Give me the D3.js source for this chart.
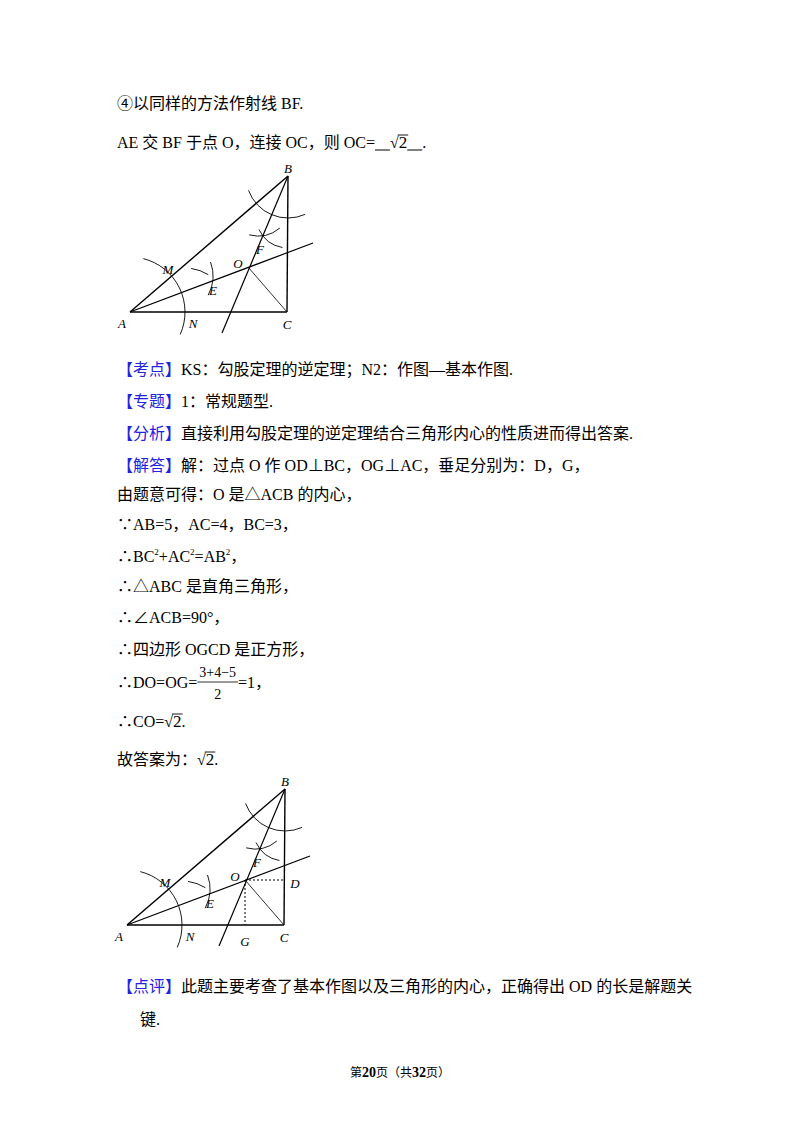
<!DOCTYPE html>
<html><head><meta charset="utf-8">
<script src="https://cdn.jsdelivr.net/npm/d3@7"></script>
<style>body{margin:0;background:#fff}text{font-family:"Liberation Serif","Noto Sans CJK SC",serif;}</style>
</head><body><svg id="s" width="800" height="1132"></svg>
<script>
const blue="#2222dd";
const lines=[
 [109,117,["④以同样的方法作射线 BF."]],
 [148,117,["AE 交 BF 于点 O，连接 OC，则 OC=",{t:"2",sqrt:1,under:1},"."]],
 [375,117,[{t:"【考点】",c:blue},"KS：勾股定理的逆定理；N2：作图—基本作图."]],
 [407,117,[{t:"【专题】",c:blue},"1：常规题型."]],
 [439,117,[{t:"【分析】",c:blue},"直接利用勾股定理的逆定理结合三角形内心的性质进而得出答案."]],
 [471,117,[{t:"【解答】",c:blue},"解：过点 O 作 OD⊥BC，OG⊥AC，垂足分别为：D，G，"]],
 [500,117,["由题意可得：O 是△ACB 的内心，"]],
 [530,117,["∵AB=5，AC=4，BC=3，"]],
 [562,117,["∴BC",{t:"2",sup:1},"+AC",{t:"2",sup:1},"=AB",{t:"2",sup:1},"，"]],
 [592,117,["∴△ABC 是直角三角形，"]],
 [623,117,["∴∠ACB=90°，"]],
 [655,117,["∴四边形 OGCD 是正方形，"]],
 [688,117,["∴DO=OG=",{frac:["3+4−5","2"]},"=1，"]],
 [727,117,["∴CO=",{t:"2",sqrt:1},"."]],
 [765,117,["故答案为：",{t:"2",sqrt:1},"."]],
 [992,117,[{t:"【点评】",c:blue},"此题主要考查了基本作图以及三角形的内心，正确得出 OD 的长是解题关"]],
 [1025,140,["键."]]
];
const footer=["第","20","页（共","32","页）"];
const ptNames=["A","C","B","O","E","F","M","N","R","S","D","G"];
const ptX=[0,157,158,118,83,130,42,55,183,92,158,118];
const ptY=[0,0,136,45,33,75,36,0,69,-21,45,0];
const svg=d3.select("#s");
function drawLine(y,x0,segs){
  let x=x0;
  segs.forEach(sg=>{
    if(typeof sg==="string") sg={t:sg};
    if(sg.frac){
      const n=svg.append("text").attr("font-size",14).attr("y",y-11).text(sg.frac[0]);
      const w=n.node().getComputedTextLength()+4;
      n.attr("x",x+2);
      svg.append("line").attr("x1",x).attr("x2",x+w).attr("y1",y-6).attr("y2",y-6).attr("stroke","#000").attr("stroke-width",0.8);
      svg.append("text").attr("font-size",14).attr("x",x+w/2).attr("y",y+11).attr("text-anchor","middle").text(sg.frac[1]);
      x+=w; return;
    }
    if(sg.sqrt){
      if(sg.under){svg.append("line").attr("x1",x).attr("x2",x+15).attr("y1",y+2).attr("y2",y+2).attr("stroke","#000");x+=15;}
      const r=svg.append("text").attr("x",x).attr("y",y).attr("font-size",16).text("√");
      x+=r.node().getComputedTextLength();
      const t=svg.append("text").attr("x",x).attr("y",y).attr("font-size",17).text(sg.t);
      const w=t.node().getComputedTextLength();
      svg.append("line").attr("x1",x-1).attr("x2",x+w+1).attr("y1",y-13).attr("y2",y-13).attr("stroke","#000").attr("stroke-width",0.9);
      x+=w;
      if(sg.under){svg.append("line").attr("x1",x).attr("x2",x+15).attr("y1",y+2).attr("y2",y+2).attr("stroke","#000");x+=15;}
      return;
    }
    const t=svg.append("text").attr("x",x).attr("y",sg.sup?y-7:y).attr("font-size",sg.sup?9:16).attr("fill",sg.c||"#000").text(sg.t);
    x+=t.node().getComputedTextLength();
  });
}
lines.forEach(l=>drawLine(l[0],l[1],l[2]));
{
  const f=svg.append("text").attr("y",1077).attr("font-size",12).attr("x",400).attr("text-anchor","middle");
  footer.forEach((s,i)=>f.append("tspan").attr("font-weight",i%2?"bold":"normal").attr("font-size",i%2?14:12).text(s));
}
function figure(ax,ay,extra){
  const sx=d3.scaleLinear().domain([0,1]).range([ax,ax+1]);
  const sy=d3.scaleLinear().domain([0,1]).range([ay,ay-1]);
  const P={};ptNames.forEach((n,i)=>P[n]=[sx(ptX[i]),sy(ptY[i])]);
  const g=svg.append("g").attr("fill","none").attr("stroke","#000");
  const seg=(a,b,w,dash)=>g.append("line").attr("x1",a[0]).attr("y1",a[1]).attr("x2",b[0]).attr("y2",b[1]).attr("stroke-width",w).attr("stroke-dasharray",dash||null);
  seg(P.A,P.C,1.6);seg(P.C,P.B,1.4);seg(P.A,P.B,1.4);
  seg(P.A,P.R,1.2);seg(P.B,P.S,1.2);seg(P.O,P.C,0.8);
  const arc=(c,r,a0,a1,w)=>{const p=d3.path();p.arc(c[0],c[1],r,a0*Math.PI/180,a1*Math.PI/180);g.append("path").attr("d",p.toString()).attr("stroke-width",w||0.9);};
  arc(P.A,55,-76,24);
  arc(P.B,42,66,160);
  arc(P.M,41,-20,28); arc(P.N,44,-82,-58);
  const b1=[P.B[0]-30,P.B[1]+26], b2=[P.B[0],P.B[1]+40];
  arc(b1,34,50,105); arc(b2,32,100,155);
  if(extra){seg(P.O,P.D,1,"2,2");seg(P.O,P.G,1,"2,2");}
  const lab=[["A",-8,12],["C",0,13],["B",0,-7],["O",-10,-3],["E",0,12],["F",0,13],["M",-4,-6],["N",8,12]];
  if(extra) lab.push(["D",10,4],["G",0,17]);
  lab.forEach(([k,dx,dy])=>svg.append("text").attr("x",P[k][0]+dx).attr("y",P[k][1]+dy+4).attr("text-anchor","middle").attr("font-size",13).attr("font-style","italic").text(k));
}
figure(130,312,false);
figure(127,925,true);
</script></body></html>
